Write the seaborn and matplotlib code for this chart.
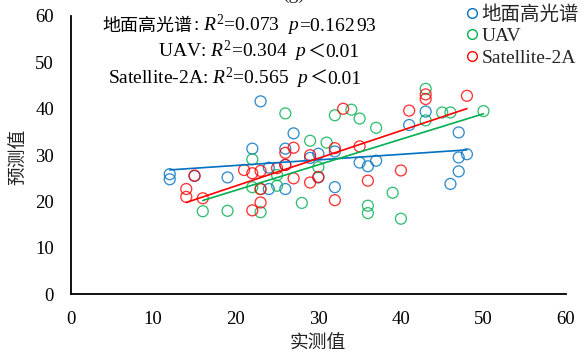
import matplotlib
matplotlib.use("Agg")
import numpy as np
import pandas as pd
import seaborn as sns
import matplotlib.pyplot as plt
from matplotlib.lines import Line2D
from matplotlib.offsetbox import TextArea, HPacker, AnnotationBbox

# ---------------- data ----------------
ground_x = [12, 12, 15, 19, 22, 23, 24, 24, 26, 26, 26, 27, 29, 30, 30, 32, 32,
            35, 36, 37, 41, 43, 46, 47, 47, 47, 48]
ground_y = [25.9, 24.8, 25.5, 25.2, 31.4, 41.6, 27.3, 22.7, 31.4, 27.9, 22.7, 34.7,
            29.4, 30.3, 25.2, 30.8, 23.1, 28.4, 27.6, 28.8, 36.5, 39.4, 23.8, 34.9,
            29.5, 26.5, 30.2]

uav_x = [16, 19, 22, 22, 23, 23, 25, 25, 26, 28, 29, 30, 31, 32, 34, 35, 36, 36,
         37, 39, 40, 43, 43, 45, 46, 50]
uav_y = [17.9, 18.0, 29.1, 23.1, 22.7, 17.7, 25.7, 23.4, 39.0, 19.7, 33.1, 27.4,
         32.7, 38.6, 39.8, 37.9, 19.1, 17.5, 35.9, 21.9, 16.3, 44.3, 37.5, 39.2,
         39.2, 39.5]

sat_x = [14, 14, 15, 16, 21, 22, 22, 23, 23, 23, 25, 26, 26, 27, 27, 29, 29, 30,
         32, 32, 33, 35, 36, 40, 41, 43, 43, 48]
sat_y = [22.7, 21.0, 25.6, 20.7, 26.8, 26.1, 18.1, 26.6, 22.7, 19.8, 27.2, 30.5,
         27.9, 31.6, 25.0, 30.0, 24.1, 25.3, 31.5, 20.3, 40.0, 31.9, 24.5, 26.7,
         39.6, 43.1, 42.1, 42.8]

series_names = ["地面高光谱", "UAV", "Satellite-2A"]
series_colors = ["#0070C0", "#00B050", "#FF0000"]
r2_values = ["0.073", "0.304", "0.565"]
p_values = ["=0.162$\\,$93", "＜0.01", "＜0.01"]
x_ticks = [0, 10, 20, 30, 40, 50, 60]
y_ticks = [0, 10, 20, 30, 40, 50, 60]
x_label = "实测值"
y_label = "预测值"
panel_title = "(g)"

# ---------------- style ----------------
sns.set_theme(style="white")
SERIF = "Liberation Serif"
CJK = "Noto Sans CJK SC"
plt.rcParams["font.family"] = [SERIF, CJK]
plt.rcParams["mathtext.fontset"] = "custom"
plt.rcParams["mathtext.rm"] = SERIF
plt.rcParams["mathtext.it"] = SERIF + ":italic"
plt.rcParams["mathtext.bf"] = SERIF + ":bold"

W, H = 584, 356
fig = plt.figure(figsize=(W / 100, H / 100), dpi=100)
x0, x1, ytop, ybot = 70.7, 566.0, 16.0, 294.3
ax = fig.add_axes([x0 / W, 1 - ybot / H, (x1 - x0) / W, (ybot - ytop) / H])

frames = [
    pd.DataFrame({"x": ground_x, "y": ground_y}),
    pd.DataFrame({"x": uav_x, "y": uav_y}),
    pd.DataFrame({"x": sat_x, "y": sat_y}),
]
for df, c in zip(frames, series_colors):
    sns.regplot(data=df, x="x", y="y", ax=ax, ci=None, color=c,
                scatter_kws=dict(s=62, facecolors="none", edgecolors=c,
                                 linewidths=0.95, zorder=3),
                line_kws=dict(lw=1.2, zorder=4))

ax.set_xlim(0, 60)
ax.set_ylim(0, 60)
ax.set_xticks(x_ticks)
ax.set_yticks(y_ticks)
sns.despine(ax=ax)
for sp in ("left", "bottom"):
    ax.spines[sp].set_color("black")
    ax.spines[sp].set_linewidth(1.3)
ax.tick_params(direction="in", length=4.5, width=1.3, pad=12, labelsize=13.5,
               colors="black")
for lab in ax.get_xticklabels() + ax.get_yticklabels():
    lab.set_family(SERIF)

ax.set_xlabel(x_label, fontsize=13.5, family=[CJK], color="#222222")
ax.set_ylabel(y_label, fontsize=13.5, family=[CJK], color="#222222")
ax.xaxis.set_label_coords((318 - x0) / (x1 - x0), (ybot - 343) / (ybot - ytop))
ax.xaxis.label.set_va("center")
ax.yaxis.set_label_coords((18 - x0) / (x1 - x0), (ybot - 157) / (ybot - ytop))
ax.yaxis.label.set_va("center")
ax.yaxis.label.set_ha("center")

# legend
handles = [Line2D([], [], marker="o", ls="", mfc="none", mec=c, ms=7, mew=1.0)
           for c in series_colors]
ax.legend(handles, series_names, loc="upper left",
          bbox_to_anchor=(465 / W, 1 - 5 / H), bbox_transform=fig.transFigure,
          frameon=False, borderpad=0, borderaxespad=0, handlelength=0.7,
          handletextpad=0.15, labelspacing=0.2,
          prop={"family": [SERIF, CJK], "size": 14})

# statistics text
def serif(s):
    return TextArea(s, textprops=dict(family=SERIF, size=14, color="black"))

def cjk(s, size=13):
    return TextArea(s, textprops=dict(family=CJK, size=size, color="black"))

def stats_line(name, r2, pv):
    parts = []
    if name == series_names[0]:
        parts.append(cjk(name))
        parts.append(serif(": $R^2$=" + r2 + "  $p$"))
    else:
        parts.append(serif(name + ": $R^2$=" + r2 + "  $p$"))
    if pv.startswith("＜"):
        parts.append(cjk("＜"))
        parts.append(serif(pv[1:]))
    else:
        parts.append(serif(pv))
    return HPacker(children=parts, pad=0, sep=0, align="baseline")

line_pos = [(102.7, 25.0), (158.3, 51.7), (108.3, 78.3)]
for (px, py), name, r2, pv in zip(line_pos, series_names, r2_values, p_values):
    box = stats_line(name, r2, pv)
    ab = AnnotationBbox(box, (px, H - py), xycoords="figure pixels",
                        box_alignment=(0, 0.5), frameon=False, pad=0)
    fig.add_artist(ab)

fig.text(294 / W, 1 + 1.5 / H, panel_title, ha="center", va="baseline",
         fontsize=14, family=SERIF)

fig.savefig("out.png", dpi=100)
